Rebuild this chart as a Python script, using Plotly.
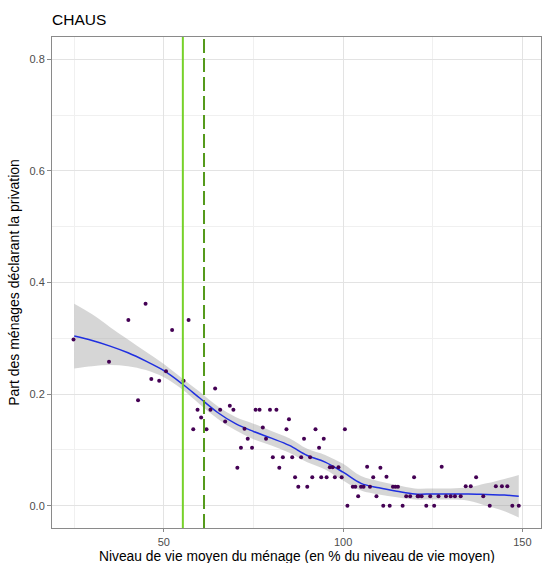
import plotly.graph_objects as go

# --- data ---
pts_x = [24.8, 34.7, 40.1, 44.9, 42.8, 46.5, 48.7, 50.6, 52.3, 55.5, 56.9,
         64.3, 59.4, 60.4, 58.2, 61.9, 63.0, 65.7, 67.1, 68.4, 69.4, 71.5, 70.5,
         72.5, 73.4, 74.6, 75.6, 76.7, 77.6, 78.5, 79.6, 81.4, 80.4, 82.2, 83.2,
         84.9, 84.2, 85.8, 86.6, 87.5, 88.3, 89.1,
         90.0, 90.8, 91.4, 92.3, 93.3, 94.6, 93.9, 95.4, 96.3, 97.1, 97.7, 98.7,
         99.6, 100.5, 101.2, 102.7, 103.4, 104.2, 105.0, 105.7, 106.7, 107.5,
         108.4, 109.3, 110.4, 111.2, 112.1, 113.0, 113.9, 114.6, 115.3, 116.6,
         117.6, 118.7, 119.8, 120.8,
         121.0, 121.9, 123.2, 124.3, 125.4, 126.6, 127.5, 128.7, 130.0, 131.2,
         132.8, 134.2, 135.6, 137.1, 139.1, 140.9, 142.6, 144.3, 145.8, 147.2, 149.0]
pts_y = [0.298, 0.258, 0.333, 0.362, 0.189, 0.227, 0.224, 0.241, 0.315, 0.224, 0.333,
         0.210, 0.172, 0.158, 0.137, 0.137, 0.172, 0.172, 0.151, 0.179, 0.172, 0.104, 0.068,
         0.138, 0.120, 0.104, 0.172, 0.172, 0.140, 0.120, 0.172, 0.172, 0.087, 0.068, 0.087,
         0.155, 0.137, 0.087, 0.051, 0.034, 0.087, 0.120,
         0.034, 0.087, 0.051, 0.137, 0.104, 0.120, 0.051, 0.051, 0.069, 0.069, 0.051, 0.069,
         0.051, 0.137, 0.000, 0.034, 0.034, 0.017, 0.034, 0.034, 0.070, 0.034,
         0.051, 0.017, 0.068, 0.000, 0.052, 0.000, 0.034, 0.034, 0.034, 0.000,
         0.017, 0.017, 0.051, 0.017,
         0.017, 0.017, 0.000, 0.017, 0.000, 0.017, 0.070, 0.017, 0.017, 0.017,
         0.017, 0.035, 0.035, 0.051, 0.017, 0.000, 0.035, 0.035, 0.035, 0.000, 0.000]

smooth_x = [25, 30, 35, 40, 45, 50, 55, 60, 65, 70, 75, 80, 85, 90, 95, 100,
            105, 110, 115, 120, 125, 130, 135, 140, 145, 149]
smooth_fit = [0.304, 0.296, 0.286, 0.274, 0.259, 0.242, 0.219, 0.193, 0.167, 0.147,
              0.133, 0.121, 0.108, 0.090, 0.078, 0.060, 0.040, 0.032, 0.026, 0.021,
              0.021, 0.021, 0.021, 0.020, 0.019, 0.017]
smooth_lo = [0.246, 0.250, 0.252, 0.250, 0.243, 0.230, 0.209, 0.182, 0.156, 0.135,
             0.119, 0.108, 0.095, 0.078, 0.065, 0.045, 0.027, 0.020, 0.015, 0.011,
             0.011, 0.011, 0.009, 0.000, -0.010, -0.021]
smooth_hi = [0.362, 0.343, 0.320, 0.298, 0.276, 0.254, 0.229, 0.204, 0.178, 0.159,
             0.147, 0.134, 0.121, 0.102, 0.091, 0.075, 0.053, 0.044, 0.037, 0.031,
             0.031, 0.031, 0.033, 0.040, 0.048, 0.055]

thresholds = [55.3, 61.2]
x_ticks = [50, 100, 150]
y_ticks = [0.0, 0.2, 0.4, 0.6, 0.8]
x_title = "Niveau de vie moyen du ménage (en % du niveau de vie moyen)"
y_title = "Part des ménages déclarant la privation"

FONT = "Liberation Sans, Arial, sans-serif"

fig = go.Figure()
fig.add_trace(go.Scatter(x=smooth_x, y=smooth_hi, mode="lines",
                         line=dict(width=0, shape="spline"), hoverinfo="skip",
                         showlegend=False))
fig.add_trace(go.Scatter(x=smooth_x, y=smooth_lo, mode="lines",
                         line=dict(width=0, shape="spline"), fill="tonexty",
                         fillcolor="rgba(153,153,153,0.4)", hoverinfo="skip",
                         showlegend=False))
fig.add_trace(go.Scatter(x=smooth_x, y=smooth_fit, mode="lines",
                         line=dict(color="#1f2fe0", width=1.5, shape="spline"),
                         showlegend=False))
fig.add_trace(go.Scatter(x=pts_x, y=pts_y, mode="markers",
                         marker=dict(color="#440154", size=4, line=dict(width=0)),
                         showlegend=False))

fig.add_shape(type="line", xref="x", yref="paper", x0=thresholds[0], x1=thresholds[0],
              y0=0, y1=1, line=dict(color="#77d12a", width=2))
fig.add_shape(type="line", xref="x", yref="paper", x0=thresholds[1], x1=thresholds[1],
              y0=0, y1=1, line=dict(color="#559a1c", width=2, dash="14px,5px"))

axis_common = dict(showline=True, mirror=True, linecolor="#8a8a8a", linewidth=1,
                   ticks="outside", tickcolor="#8a8a8a", tickwidth=1,
                   showgrid=True, gridcolor="#e3e3e3", gridwidth=1, zeroline=False,
                   automargin=False,
                   tickfont=dict(family=FONT, size=11, color="#4d4d4d"))

fig.update_xaxes(range=[18.8, 155.2], tickvals=x_ticks,
                 ticktext=[str(v) for v in x_ticks], ticklen=3,
                 ticklabelstandoff=1,
                 minor=dict(dtick=25, tick0=0, showgrid=True, gridcolor="#f0f0f0",
                            gridwidth=1, ticks=""),
                 **axis_common)
fig.update_yaxes(range=[-0.04, 0.84], tickvals=y_ticks,
                 ticktext=[f"{v:.1f}" for v in y_ticks], ticklen=4,
                 minor=dict(dtick=0.1, tick0=0, showgrid=True, gridcolor="#f0f0f0",
                            gridwidth=1, ticks=""),
                 title=dict(text=y_title, standoff=6,
                            font=dict(family=FONT, size=14, color="#000000")),
                 **axis_common)

fig.add_annotation(text=x_title, xref="paper", yref="paper", x=0.5, y=-(556 - 528) / 491,
                   xanchor="center", yanchor="middle", showarrow=False,
                   font=dict(family=FONT, size=13.8, color="#000000"))

fig.update_layout(
    template="none",
    width=542, height=563,
    margin=dict(l=52, r=1, t=37, b=35),
    plot_bgcolor="white", paper_bgcolor="white",
    title=dict(text="CHAUS", x=52/542, xanchor="left", y=1-20/563, yanchor="middle",
               font=dict(family=FONT, size=15.5, color="#000000")),
    showlegend=False,
)

fig.write_html("out.html")
